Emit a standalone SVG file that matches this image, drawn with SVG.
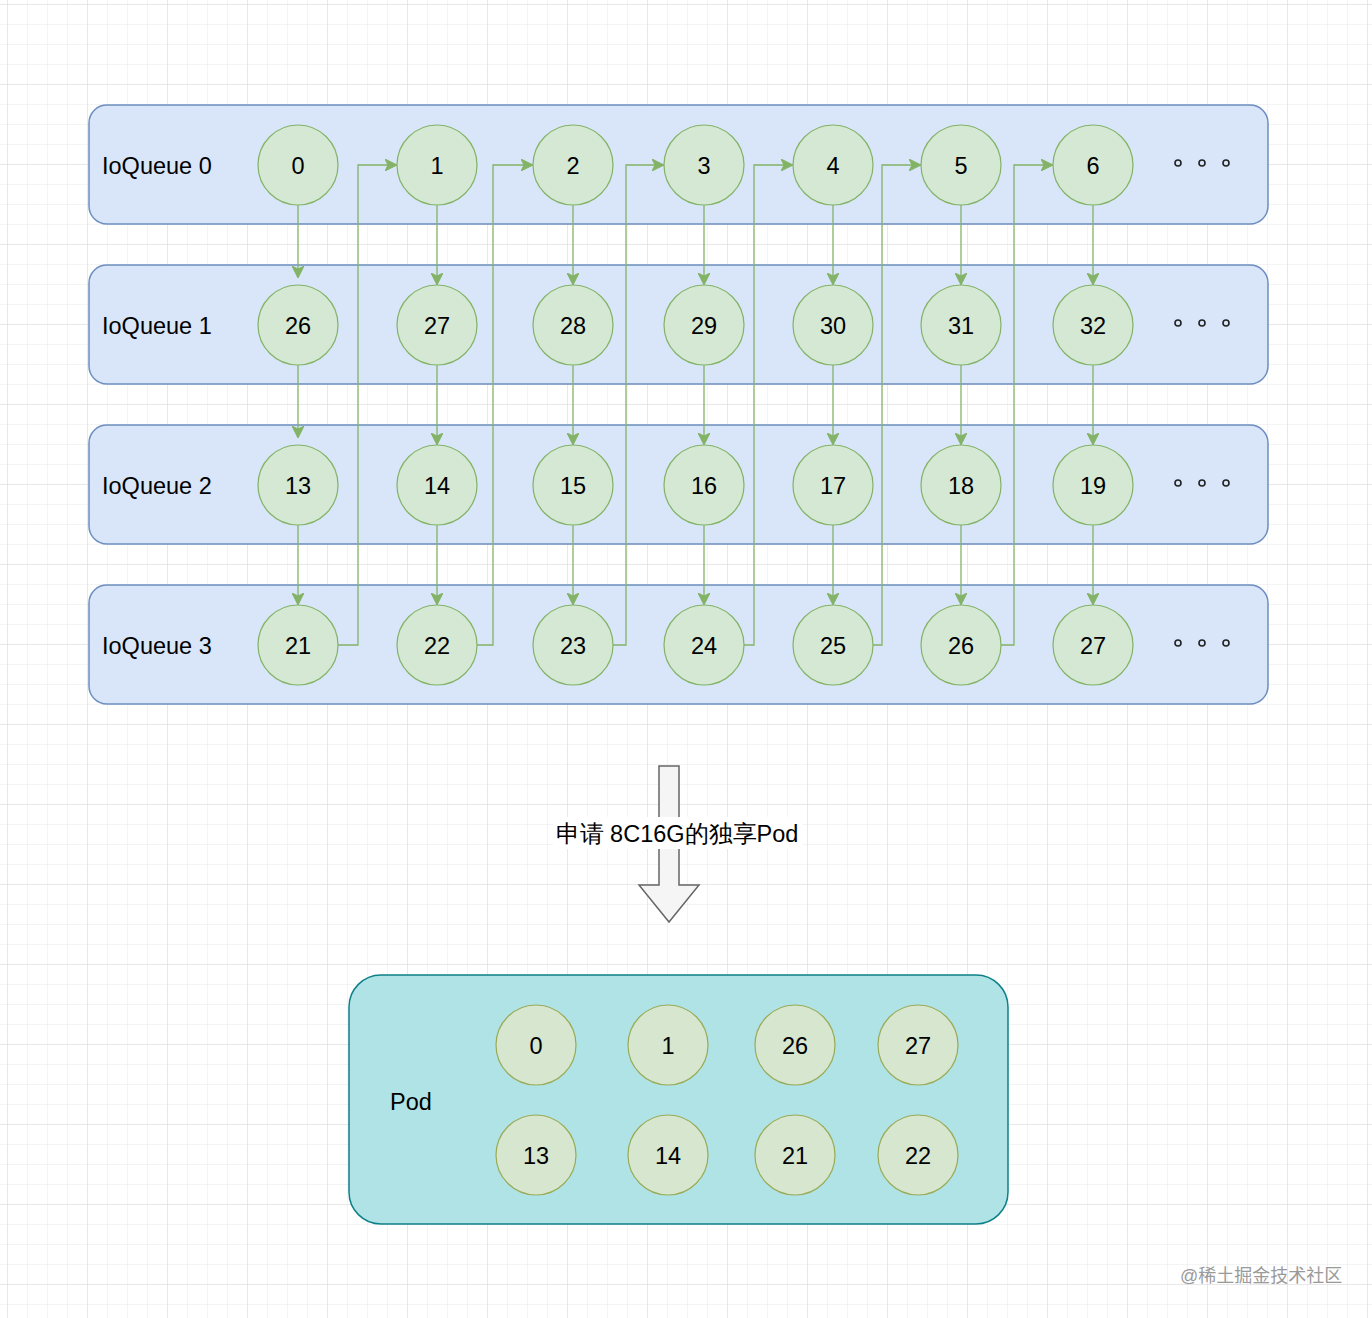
<svg xmlns="http://www.w3.org/2000/svg" width="1372" height="1318" viewBox="0 0 1372 1318">
<defs>
<pattern id="minor" width="20" height="20" patternUnits="userSpaceOnUse" x="8" y="5">
<path d="M20 0V20M0 20H20" fill="none" stroke="#e8e8e8" stroke-width="1"/>
</pattern>
<pattern id="major" width="80" height="80" patternUnits="userSpaceOnUse" x="8" y="5">
<path d="M80 0V80M0 80H80" fill="none" stroke="#dcdcdc" stroke-width="1"/>
</pattern>
<marker id="ah" viewBox="0 0 12 12" refX="11" refY="6" markerWidth="12" markerHeight="12" orient="auto" markerUnits="userSpaceOnUse">
<path d="M0 0L12 6L0 12L3 6Z" fill="#82b366" stroke="#82b366" stroke-width="1"/>
</marker>
<style>
.q{fill:#d9e5f8;stroke:#6c8ebf;stroke-width:1.5}
.c{fill:#d5e8d4;stroke:#82b366;stroke-width:1.2}
.pc{fill:#d6e6cf;stroke:#9aab55;stroke-width:1.2}
.t{font-family:"Liberation Sans",Arial,sans-serif;font-size:23.5px;fill:#000}
.m{text-anchor:middle}
.e{fill:none;stroke:#82b366;stroke-width:1.3}
.d{fill:none;stroke:#222;stroke-width:1.6}
</style>
</defs>
<rect width="1372" height="1318" fill="#fff"/>
<rect width="1372" height="1318" fill="url(#minor)"/>
<rect width="1372" height="1318" fill="url(#major)"/>

<g id="ioqueue0"><rect class="q" x="89" y="105" width="1179" height="119" rx="18"/><text class="t" x="102" y="174">IoQueue 0</text></g>
<g id="ioqueue1"><rect class="q" x="89" y="265" width="1179" height="119" rx="18"/><text class="t" x="102" y="334">IoQueue 1</text></g>
<g id="ioqueue2"><rect class="q" x="89" y="425" width="1179" height="119" rx="18"/><text class="t" x="102" y="494">IoQueue 2</text></g>
<g id="ioqueue3"><rect class="q" x="89" y="585" width="1179" height="119" rx="18"/><text class="t" x="102" y="654">IoQueue 3</text></g>

<g id="ellipsis">
<circle class="d" cx="1178" cy="163" r="3"/><circle class="d" cx="1202" cy="163" r="3"/><circle class="d" cx="1226" cy="163" r="3"/>
<circle class="d" cx="1178" cy="323" r="3"/><circle class="d" cx="1202" cy="323" r="3"/><circle class="d" cx="1226" cy="323" r="3"/>
<circle class="d" cx="1178" cy="483" r="3"/><circle class="d" cx="1202" cy="483" r="3"/><circle class="d" cx="1226" cy="483" r="3"/>
<circle class="d" cx="1178" cy="643" r="3"/><circle class="d" cx="1202" cy="643" r="3"/><circle class="d" cx="1226" cy="643" r="3"/>
</g>

<g id="connectors">
<path class="e" marker-end="url(#ah)" d="M298 205V277"/>
<path class="e" marker-end="url(#ah)" d="M298 365V437"/>
<path class="e" marker-end="url(#ah)" d="M298 525V604"/>
<path class="e" marker-end="url(#ah)" d="M437 205V284"/>
<path class="e" marker-end="url(#ah)" d="M437 365V444"/>
<path class="e" marker-end="url(#ah)" d="M437 525V604"/>
<path class="e" marker-end="url(#ah)" d="M573 205V284"/>
<path class="e" marker-end="url(#ah)" d="M573 365V444"/>
<path class="e" marker-end="url(#ah)" d="M573 525V604"/>
<path class="e" marker-end="url(#ah)" d="M704 205V284"/>
<path class="e" marker-end="url(#ah)" d="M704 365V444"/>
<path class="e" marker-end="url(#ah)" d="M704 525V604"/>
<path class="e" marker-end="url(#ah)" d="M833 205V284"/>
<path class="e" marker-end="url(#ah)" d="M833 365V444"/>
<path class="e" marker-end="url(#ah)" d="M833 525V604"/>
<path class="e" marker-end="url(#ah)" d="M961 205V284"/>
<path class="e" marker-end="url(#ah)" d="M961 365V444"/>
<path class="e" marker-end="url(#ah)" d="M961 525V604"/>
<path class="e" marker-end="url(#ah)" d="M1093 205V284"/>
<path class="e" marker-end="url(#ah)" d="M1093 365V444"/>
<path class="e" marker-end="url(#ah)" d="M1093 525V604"/>
<path class="e" marker-end="url(#ah)" d="M338 645H358V165H396"/>
<path class="e" marker-end="url(#ah)" d="M477 645H493V165H532"/>
<path class="e" marker-end="url(#ah)" d="M613 645H626V165H663"/>
<path class="e" marker-end="url(#ah)" d="M744 645H754V165H792"/>
<path class="e" marker-end="url(#ah)" d="M873 645H882V165H920"/>
<path class="e" marker-end="url(#ah)" d="M1001 645H1014V165H1052"/>
</g>

<g id="n0"><circle class="c" cx="298" cy="165" r="40"/><text class="t m" x="298" y="174">0</text></g>
<g id="n1"><circle class="c" cx="437" cy="165" r="40"/><text class="t m" x="437" y="174">1</text></g>
<g id="n2"><circle class="c" cx="573" cy="165" r="40"/><text class="t m" x="573" y="174">2</text></g>
<g id="n3"><circle class="c" cx="704" cy="165" r="40"/><text class="t m" x="704" y="174">3</text></g>
<g id="n4"><circle class="c" cx="833" cy="165" r="40"/><text class="t m" x="833" y="174">4</text></g>
<g id="n5"><circle class="c" cx="961" cy="165" r="40"/><text class="t m" x="961" y="174">5</text></g>
<g id="n6"><circle class="c" cx="1093" cy="165" r="40"/><text class="t m" x="1093" y="174">6</text></g>

<g id="n26a"><circle class="c" cx="298" cy="325" r="40"/><text class="t m" x="298" y="334">26</text></g>
<g id="n27a"><circle class="c" cx="437" cy="325" r="40"/><text class="t m" x="437" y="334">27</text></g>
<g id="n28"><circle class="c" cx="573" cy="325" r="40"/><text class="t m" x="573" y="334">28</text></g>
<g id="n29"><circle class="c" cx="704" cy="325" r="40"/><text class="t m" x="704" y="334">29</text></g>
<g id="n30"><circle class="c" cx="833" cy="325" r="40"/><text class="t m" x="833" y="334">30</text></g>
<g id="n31"><circle class="c" cx="961" cy="325" r="40"/><text class="t m" x="961" y="334">31</text></g>
<g id="n32"><circle class="c" cx="1093" cy="325" r="40"/><text class="t m" x="1093" y="334">32</text></g>

<g id="n13"><circle class="c" cx="298" cy="485" r="40"/><text class="t m" x="298" y="494">13</text></g>
<g id="n14"><circle class="c" cx="437" cy="485" r="40"/><text class="t m" x="437" y="494">14</text></g>
<g id="n15"><circle class="c" cx="573" cy="485" r="40"/><text class="t m" x="573" y="494">15</text></g>
<g id="n16"><circle class="c" cx="704" cy="485" r="40"/><text class="t m" x="704" y="494">16</text></g>
<g id="n17"><circle class="c" cx="833" cy="485" r="40"/><text class="t m" x="833" y="494">17</text></g>
<g id="n18"><circle class="c" cx="961" cy="485" r="40"/><text class="t m" x="961" y="494">18</text></g>
<g id="n19"><circle class="c" cx="1093" cy="485" r="40"/><text class="t m" x="1093" y="494">19</text></g>

<g id="n21"><circle class="c" cx="298" cy="645" r="40"/><text class="t m" x="298" y="654">21</text></g>
<g id="n22"><circle class="c" cx="437" cy="645" r="40"/><text class="t m" x="437" y="654">22</text></g>
<g id="n23"><circle class="c" cx="573" cy="645" r="40"/><text class="t m" x="573" y="654">23</text></g>
<g id="n24"><circle class="c" cx="704" cy="645" r="40"/><text class="t m" x="704" y="654">24</text></g>
<g id="n25"><circle class="c" cx="833" cy="645" r="40"/><text class="t m" x="833" y="654">25</text></g>
<g id="n26b"><circle class="c" cx="961" cy="645" r="40"/><text class="t m" x="961" y="654">26</text></g>
<g id="n27b"><circle class="c" cx="1093" cy="645" r="40"/><text class="t m" x="1093" y="654">27</text></g>

<g id="bigarrow">
<path d="M659 766H679V885H699L669 922L639 885H659Z" fill="#f5f5f5" stroke="#666" stroke-width="1.5"/>
<rect x="553" y="817" width="250" height="32" fill="#fff"/>
<text class="t m" x="677" y="842" font-family="'Liberation Sans','Noto Sans CJK SC',sans-serif">申请 8C16G的独享Pod</text>
</g>

<g id="pod">
<rect x="349" y="975" width="659" height="249" rx="32" fill="#b0e3e6" stroke="#0e8088" stroke-width="1.5"/>
<text class="t m" x="411" y="1110">Pod</text>
</g>
<g id="p0"><circle class="pc" cx="536" cy="1045" r="40"/><text class="t m" x="536" y="1054">0</text></g>
<g id="p1"><circle class="pc" cx="668" cy="1045" r="40"/><text class="t m" x="668" y="1054">1</text></g>
<g id="p26"><circle class="pc" cx="795" cy="1045" r="40"/><text class="t m" x="795" y="1054">26</text></g>
<g id="p27"><circle class="pc" cx="918" cy="1045" r="40"/><text class="t m" x="918" y="1054">27</text></g>
<g id="p13"><circle class="pc" cx="536" cy="1155" r="40"/><text class="t m" x="536" y="1164">13</text></g>
<g id="p14"><circle class="pc" cx="668" cy="1155" r="40"/><text class="t m" x="668" y="1164">14</text></g>
<g id="p21"><circle class="pc" cx="795" cy="1155" r="40"/><text class="t m" x="795" y="1164">21</text></g>
<g id="p22"><circle class="pc" cx="918" cy="1155" r="40"/><text class="t m" x="918" y="1164">22</text></g>

<text x="1180" y="1282" font-family="'Liberation Sans','Noto Sans CJK SC',sans-serif" font-size="18" fill="#9a9a9a">@稀土掘金技术社区</text>
</svg>
